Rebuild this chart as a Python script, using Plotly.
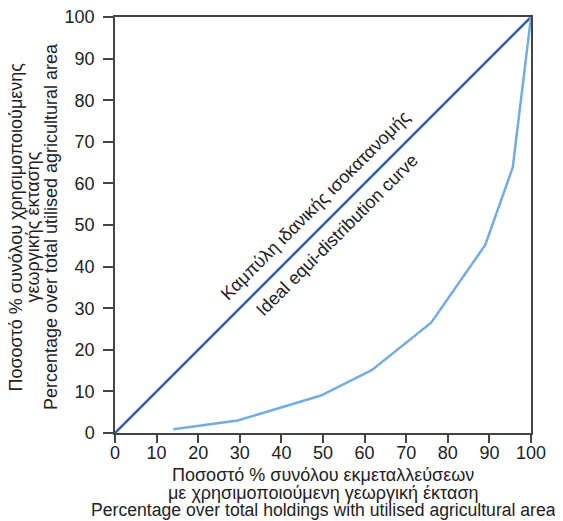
import plotly.graph_objects as go

# Data
holdings_pct = [14.0, 29.5, 49.5, 61.7, 76.0, 89.0, 95.6, 100.0]
area_pct = [0.9, 3.0, 9.0, 15.1, 26.5, 45.2, 63.8, 100.0]
ideal_x = [0, 100]
ideal_y = [0, 100]
tick_vals = [0, 10, 20, 30, 40, 50, 60, 70, 80, 90, 100]

x_title_lines = ["Ποσοστό % συνόλου εκμεταλλεύσεων",
                 "με χρησιμοποιούμενη γεωργική έκταση",
                 "Percentage over total holdings with utilised agricultural area"]
y_title_lines = ["Ποσοστό % συνόλου χρησιμοποιούμενης",
                 "γεωργικής έκτασης",
                 "Percentage over total utilised agricultural area"]
label_gr = "Καμπύλη ιδανικής ισοκατανομής"
label_en = "Ideal equi-distribution curve"

FONT = "Liberation Sans, Arial, sans-serif"
AX = "#444444"
TXT = "#222222"
FS = 18

fig = go.Figure()
fig.add_trace(go.Scatter(x=ideal_x, y=ideal_y, mode="lines",
                         line=dict(color="#2F5FAE", width=2.5),
                         showlegend=False, hoverinfo="skip"))
fig.add_trace(go.Scatter(x=holdings_pct, y=area_pct, mode="lines",
                         line=dict(color="#74ACE0", width=2.5),
                         showlegend=False))

fig.add_annotation(x=48.3, y=54.8, text=label_gr, showarrow=False,
                   textangle=-45, font=dict(size=FS, color=TXT, family=FONT))
fig.add_annotation(x=53.4, y=47.6, text=label_en, showarrow=False,
                   textangle=-45, font=dict(size=FS, color=TXT, family=FONT))

# x-axis title lines
for line, ys, fs in zip(x_title_lines, [-41.7, -59.7, -76.7], [18, 18, 17.6]):
    fig.add_annotation(xref="paper", yref="paper", x=0.5, y=0, text=line,
                       showarrow=False, xanchor="center", yanchor="middle",
                       yshift=ys, font=dict(size=fs, color=TXT, family=FONT))
# y-axis title lines
for line, xs in zip(y_title_lines, [-98.5, -81.5, -64]):
    fig.add_annotation(xref="paper", yref="paper", x=0, y=0.495, text=line,
                       showarrow=False, xanchor="center", yanchor="middle",
                       textangle=-90, xshift=xs,
                       font=dict(size=FS, color=TXT, family=FONT))

axis_common = dict(range=[0, 100], tickvals=tick_vals, showgrid=False, zeroline=False,
                   showline=True, linecolor=AX, linewidth=1.5, mirror=True,
                   ticks="outside", tickwidth=1.5, tickcolor=AX, automargin=False,
                   ticklabeloverflow="allow",
                   tickfont=dict(size=FS, color=TXT, family=FONT))

fig.update_xaxes(**axis_common, ticklen=8, ticklabelstandoff=-5)
fig.update_yaxes(**axis_common, ticklen=10, ticklabelstandoff=5)

# page body adds an 8px offset, so the figure is 8px smaller than the window
fig.update_layout(width=555, height=513,
                  margin=dict(l=107, r=32, t=9, b=88),
                  plot_bgcolor="white", paper_bgcolor="white",
                  font=dict(family=FONT))

fig.write_html("out.html")
